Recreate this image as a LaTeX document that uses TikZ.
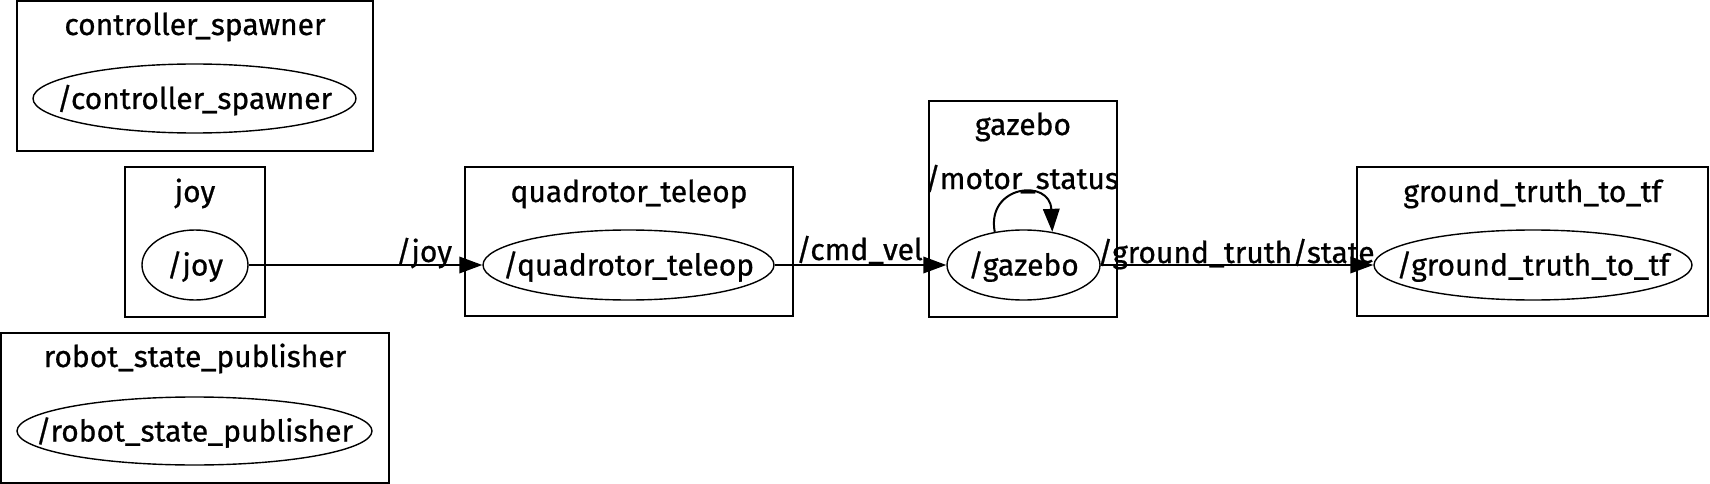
\documentclass[tikz,border=0pt]{standalone}
\usepackage{fontspec}
\setmainfont{Fira Sans}[UprightFeatures={FakeBold=0.7}]
\usetikzlibrary{arrows.meta,shapes.geometric}
\begin{document}
\begin{tikzpicture}[x=1pt,y=-1pt,
  every node/.style={font=\fontsize{30}{33}\selectfont},
  grp/.style={draw,line width=2pt,rectangle,inner sep=0pt},
  ttl/.style={anchor=base,inner sep=0pt},
  proc/.style={draw,line width=1.4pt,ellipse,inner sep=0pt,text height=21pt,text depth=0pt},
  lbl/.style={anchor=base,inner sep=0pt},
  edge/.style={line width=2pt,-{Triangle[length=23pt,width=16.5pt]}}
]
\useasboundingbox (0,0) rectangle (1710,484);
% groups
\node[grp,minimum width=356pt,minimum height=150pt] (gcs) at (195,76) {};
\node[grp,minimum width=140pt,minimum height=150pt] (gjoy) at (195,242) {};
\node[grp,minimum width=388pt,minimum height=150pt] (grsp) at (195,408) {};
\node[grp,minimum width=328pt,minimum height=149pt] (gqt) at (629,241.5) {};
\node[grp,minimum width=188pt,minimum height=216pt] (ggz) at (1023,209) {};
\node[grp,minimum width=351pt,minimum height=149pt] (ggt) at (1532.5,241.5) {};
% titles
\node[ttl] (tcs) at (195,35) {controller\_spawner};
\node[ttl] (tjoy) at (195,202) {joy};
\node[ttl] (trsp) at (195,367) {robot\_state\_publisher};
\node[ttl] (tqt) at (629,202) {quadrotor\_teleop};
\node[ttl] (tgz) at (1023,135) {gazebo};
\node[ttl] (tgt) at (1532.5,202) {ground\_truth\_to\_tf};
% processes
\node[proc,minimum width=323pt,minimum height=69pt] (cs) at (194.5,98.5) {\makebox[0pt]{/controller\_spawner}};
\node[proc,minimum width=106pt,minimum height=70pt] (joy) at (195,265) {\makebox[0pt]{/joy}};
\node[proc,minimum width=355pt,minimum height=68pt] (rsp) at (194.5,431) {\makebox[0pt]{/robot\_state\_publisher}};
\node[proc,minimum width=291pt,minimum height=70pt] (qt) at (628.5,265) {\makebox[0pt]{/quadrotor\_teleop}};
\node[proc,minimum width=153pt,minimum height=70pt] (gz) at (1023.5,265) {\makebox[0pt]{/gazebo}};
\node[proc,minimum width=318pt,minimum height=70pt] (gt) at (1533,265) {\makebox[0pt]{/ground\_truth\_to\_tf}};
% edges
\draw[edge] (joy.east) -- (qt.west);
\draw[edge] (qt.east) -- (gz.west);
\draw[edge] (gz.east) -- (gt.west);
\draw[edge] (gz.131) .. controls (986,185) and (1050,178) .. (gz.49);
% edge labels
\node[lbl] (ljoy) at (424,262) {/joy};
\node[lbl] (lcmd) at (859.5,260) {/cmd\_vel};
\node[lbl] (lgt) at (1236,263) {/ground\_truth/state};
\node[lbl] (lms) at (1022,189) {/motor\_status};
\end{tikzpicture}
\end{document}
